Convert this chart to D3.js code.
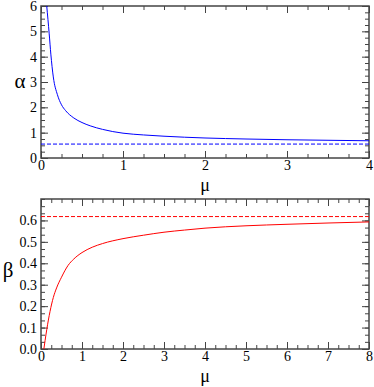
<!DOCTYPE html>
<html>
<head>
<meta charset="utf-8">
<script src="https://cdn.jsdelivr.net/npm/d3@7"></script>
<style>
body { margin: 0; background: #fff; }
</style>
</head>
<body>
<div id="chart"></div>
<script>
// alpha(mu)
var muA   = [0.07, 0.1, 0.12, 0.15, 0.2, 0.25, 0.3, 0.4, 0.5, 0.6, 0.75, 1.0, 1.25, 1.5, 2.0, 2.5, 3.0, 3.5, 4.0];
var alpha = [6.0, 4.9, 4.1, 3.2, 2.5, 2.1, 1.87, 1.58, 1.4, 1.27, 1.13, 0.98, 0.91, 0.86, 0.79, 0.75, 0.72, 0.70, 0.68];
var alphaLimit = 0.55;

// beta(mu)
var muB  = [0.07, 0.1, 0.14, 0.18, 0.22, 0.26, 0.3, 0.38, 0.5, 0.66, 0.8, 1.0, 1.25, 1.5, 2.0, 2.5, 3.0, 3.5, 4, 5, 6, 7, 8];
var beta = [0, 0.04, 0.09, 0.135, 0.175, 0.21, 0.24, 0.285, 0.335, 0.39, 0.42, 0.45, 0.475, 0.492, 0.515, 0.531, 0.545, 0.555, 0.564, 0.575, 0.582, 0.588, 0.593];
var betaLimit = 0.618;

// tick labels
var xTicksA = [0, 1, 2, 3, 4];
var yTicksA = [0, 1, 2, 3, 4, 5, 6];
var xTicksB = [0, 1, 2, 3, 4, 5, 6, 7, 8];
var yTicksB = [0, 0.1, 0.2, 0.3, 0.4, 0.5, 0.6];

var serif = "Liberation Serif, DejaVu Serif, Times New Roman, serif";

var svg = d3.select("#chart").append("svg")
    .attr("width", 374)
    .attr("height", 387);

var frameColor = "#444";

function panel(opt) {
    var x = d3.scaleLinear().domain(opt.xDomain).range([41, 369]);
    var y = d3.scaleLinear().domain(opt.yDomain).range([opt.bottom, opt.top]);
    var g = svg.append("g");

    var xMinor = d3.range(opt.xDomain[0], opt.xDomain[1] + 1e-9, opt.xMinor);
    var yMinor = d3.range(opt.yDomain[0], opt.yDomain[1] + 1e-9, opt.yMinor);

    // minor ticks on all four sides
    g.append("g").attr("transform", "translate(0," + opt.bottom + ")")
        .call(d3.axisBottom(x).tickValues(xMinor).tickSize(-4).tickFormat(""));
    g.append("g").attr("transform", "translate(0," + opt.top + ")")
        .call(d3.axisTop(x).tickValues(xMinor).tickSize(-4).tickFormat(""));
    g.append("g").attr("transform", "translate(41,0)")
        .call(d3.axisLeft(y).tickValues(yMinor).tickSize(-4).tickFormat(""));
    g.append("g").attr("transform", "translate(369,0)")
        .call(d3.axisRight(y).tickValues(yMinor).tickSize(-4).tickFormat(""));

    // major ticks
    g.append("g").attr("transform", "translate(0," + opt.bottom + ")")
        .call(d3.axisBottom(x).tickValues(opt.xTicks).tickSize(-7).tickPadding(2).tickFormat(d3.format("d")));
    g.append("g").attr("transform", "translate(0," + opt.top + ")")
        .call(d3.axisTop(x).tickValues(opt.xTicks).tickSize(-7).tickFormat(""));
    g.append("g").attr("transform", "translate(41,0)")
        .call(d3.axisLeft(y).tickValues(opt.yTicks).tickSize(-7).tickPadding(4).tickFormat(d3.format(opt.yFormat)));
    g.append("g").attr("transform", "translate(369,0)")
        .call(d3.axisRight(y).tickValues(opt.yTicks).tickSize(-7).tickFormat(""));

    g.selectAll(".domain").remove();
    g.selectAll(".tick line").attr("stroke", frameColor).attr("stroke-width", 1);
    g.selectAll(".tick text")
        .attr("font-family", serif).style("font-family", serif)
        .style("font-size", "14px").attr("fill", "#000");

    // frame
    g.append("rect")
        .attr("x", 41).attr("y", opt.top)
        .attr("width", 328).attr("height", opt.bottom - opt.top)
        .attr("fill", "none").attr("stroke", frameColor).attr("stroke-width", 1.5);

    var clipId = "clip" + opt.top;
    svg.append("clipPath").attr("id", clipId).append("rect")
        .attr("x", 41).attr("y", opt.top)
        .attr("width", 328).attr("height", opt.bottom - opt.top);

    var line = d3.line()
        .curve(d3.curveMonotoneX)
        .x(function(d) { return x(d[0]); })
        .y(function(d) { return y(d[1]); });

    g.append("path")
        .datum(d3.zip(opt.xs, opt.ys))
        .attr("clip-path", "url(#" + clipId + ")")
        .attr("fill", "none").attr("stroke", opt.color).attr("stroke-width", 1)
        .attr("d", line);

    g.append("line")
        .attr("x1", x(opt.xDomain[0])).attr("x2", x(opt.xDomain[1]))
        .attr("y1", y(opt.limit)).attr("y2", y(opt.limit))
        .attr("stroke", opt.color).attr("stroke-width", 1)
        .attr("stroke-dasharray", "4,2");

    // axis labels
    g.append("text")
        .attr("x", 205).attr("y", opt.bottom + 33)
        .attr("text-anchor", "middle")
        .style("font-family", serif).style("font-size", "18px")
        .text("μ");
    g.append("text")
        .attr("x", opt.yLabelX).attr("y", opt.yLabelY)
        .attr("text-anchor", "middle")
        .style("font-family", serif).style("font-size", "21px")
        .text(opt.yLabel);
}

panel({
    top: 6, bottom: 158,
    xDomain: [0, 4], yDomain: [0, 6],
    xMinor: 0.25, yMinor: 0.25,
    xTicks: xTicksA, yTicks: yTicksA, yFormat: "d",
    xs: muA, ys: alpha, limit: alphaLimit,
    color: "#0000ff", yLabel: "α", yLabelX: 20, yLabelY: 88
});

panel({
    top: 199, bottom: 349,
    xDomain: [0, 8], yDomain: [0, 0.7],
    xMinor: 0.25, yMinor: 0.1 / 3,
    xTicks: xTicksB, yTicks: yTicksB, yFormat: ".1f",
    xs: muB, ys: beta, limit: betaLimit,
    color: "#ff0000", yLabel: "β", yLabelX: 8, yLabelY: 277
});
</script>
</body>
</html>
